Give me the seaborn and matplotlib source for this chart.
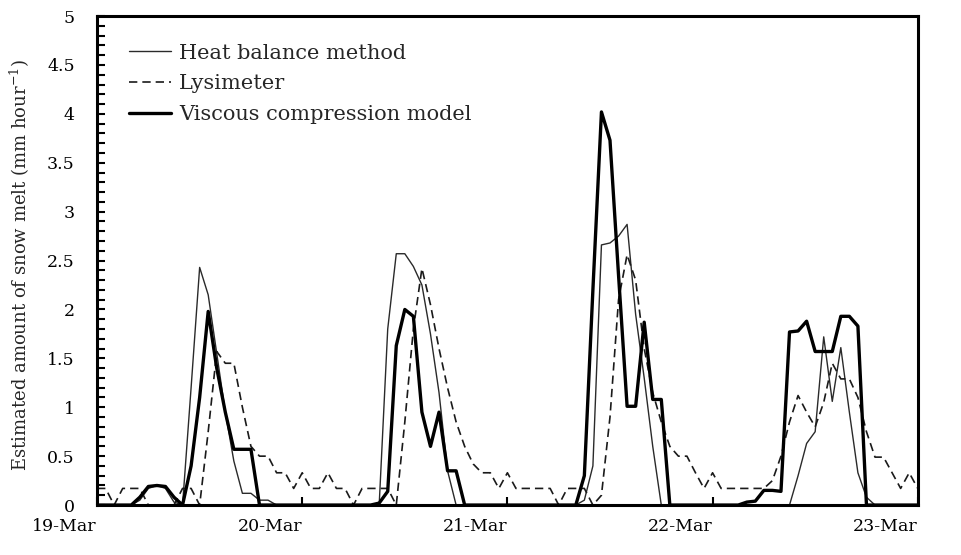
import numpy as np
import pandas as pd
import matplotlib
matplotlib.use("Agg")
import matplotlib.pyplot as plt
from matplotlib.ticker import MultipleLocator, FormatStrFormatter
import seaborn as sns

# hourly values from 19-Mar 00:00 to 23-Mar 00:00 (97 points)
hours = np.arange(97)
day_ticks = [0, 24, 48, 72, 96]
day_labels = ['19-Mar', '20-Mar', '21-Mar', '22-Mar', '23-Mar']

heat_balance = [
    0, 0, 0, 0, 0, 0.05, 0.17, 0.2, 0.17, 0.03, 0, 1.2,
    2.43, 2.15, 1.55, 0.95, 0.45, 0.12, 0.12, 0.05, 0.05, 0, 0, 0,
    0, 0, 0, 0, 0, 0, 0, 0, 0, 0, 1.8, 2.57,
    2.57, 2.44, 2.25, 1.75, 1.15, 0.35, 0, 0, 0, 0, 0, 0,
    0, 0, 0, 0, 0, 0, 0, 0, 0, 0.05, 0.4, 2.66,
    2.68, 2.75, 2.87, 1.95, 1.3, 0.6, 0, 0, 0, 0, 0, 0,
    0, 0, 0, 0, 0, 0, 0, 0, 0, 0, 0.3, 0.63,
    0.75, 1.72, 1.06, 1.61, 0.95, 0.33, 0.08, 0, 0, 0, 0, 0,
    0,
]

lysimeter = [
    0.17, 0.17, 0, 0.17, 0.17, 0.17, 0, 0, 0, 0, 0.17, 0.17,
    0, 0.75, 1.57, 1.45, 1.45, 1.0, 0.6, 0.5, 0.5, 0.33, 0.33, 0.17,
    0.33, 0.17, 0.17, 0.33, 0.17, 0.17, 0, 0.17, 0.17, 0.17, 0.17, 0,
    0.85, 1.8, 2.42, 2.05, 1.6, 1.2, 0.85, 0.6, 0.42, 0.33, 0.33, 0.17,
    0.33, 0.17, 0.17, 0.17, 0.17, 0.17, 0, 0.17, 0.17, 0.17, 0, 0.1,
    0.9, 2.1, 2.56, 2.3, 1.6, 1.15, 0.85, 0.6, 0.5, 0.5, 0.33, 0.17,
    0.33, 0.17, 0.17, 0.17, 0.17, 0.17, 0.17, 0.25, 0.5, 0.85, 1.12, 0.95,
    0.8, 1.05, 1.45, 1.29, 1.29, 1.1, 0.75, 0.49, 0.49, 0.33, 0.17, 0.33,
    0.17,
]

viscous = [
    0, 0, 0, 0, 0, 0.08, 0.19, 0.2, 0.19, 0.08, 0, 0.4,
    1.1, 1.98, 1.4, 0.95, 0.57, 0.57, 0.57, 0, 0, 0, 0, 0,
    0, 0, 0, 0, 0, 0, 0, 0, 0, 0.02, 0.14, 1.63,
    2.0, 1.93, 0.95, 0.6, 0.95, 0.35, 0.35, 0, 0, 0, 0, 0,
    0, 0, 0, 0, 0, 0, 0, 0, 0, 0.3, 2.2, 4.02,
    3.73, 2.35, 1.01, 1.01, 1.87, 1.08, 1.08, 0, 0, 0, 0, 0,
    0, 0, 0, 0, 0.03, 0.04, 0.15, 0.15, 0.14, 1.77, 1.78, 1.88,
    1.57, 1.57, 1.57, 1.93, 1.93, 1.83, 0, 0, 0, 0, 0, 0,
    0,
]

df = pd.DataFrame({'hour': hours, 'Heat balance method': heat_balance,
                   'Lysimeter': lysimeter, 'Viscous compression model': viscous})

sns.set_style('ticks')
plt.rcParams['font.family'] = ['DejaVu Serif']
plt.rcParams['mathtext.fontset'] = 'dejavuserif'

fig = plt.figure(figsize=(9.61, 5.55), dpi=100)
ax = fig.add_axes([0.101, 0.090, 0.854, 0.881])

sns.lineplot(data=df, x='hour', y='Heat balance method', ax=ax, color='#2a2a2a',
             linewidth=1.0, label='Heat balance method')
sns.lineplot(data=df, x='hour', y='Lysimeter', ax=ax, color='#1a1a1a',
             linewidth=1.2, label='Lysimeter')
ax.lines[-1].set_dashes([5, 3])
sns.lineplot(data=df, x='hour', y='Viscous compression model', ax=ax, color='black',
             linewidth=2.4, label='Viscous compression model')

ax.set_xlim(0, 96)
ax.set_ylim(0, 5)
ax.set_xticks(day_ticks)
ax.set_xticklabels(day_labels, ha='right')
ax.yaxis.set_major_locator(MultipleLocator(0.5))
ax.yaxis.set_minor_locator(MultipleLocator(0.1))
ax.yaxis.set_major_formatter(FormatStrFormatter('%g'))
ax.tick_params(axis='both', which='both', direction='in', width=1.5, colors='black',
               labelsize=12.5)
ax.tick_params(axis='y', which='both', length=6, pad=16)
ax.tick_params(axis='x', which='major', length=6, pad=9)

ax.set_xlabel('')
ax.set_ylabel('Estimated amount of snow melt (mm hour$^{-1}$)', fontsize=13)
ax.yaxis.set_label_coords(-0.079, 0.49)

for side in ['top', 'right', 'bottom', 'left']:
    ax.spines[side].set_visible(True)
    ax.spines[side].set_linewidth(2.2)
    ax.spines[side].set_color('black')

leg = ax.legend(loc='upper left', bbox_to_anchor=(0.016, 0.982), frameon=False,
                fontsize=15, handlelength=2.0, handletextpad=0.4, labelspacing=0.56)
leg.get_lines()[1].set_dashes([5, 3])

fig.savefig('out.png', dpi=100)
